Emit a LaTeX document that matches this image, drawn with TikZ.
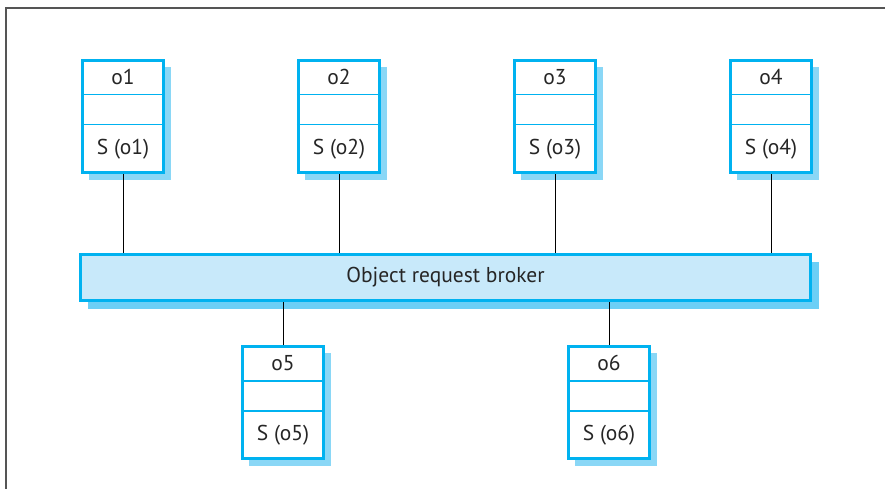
\documentclass[tikz,border=0pt]{standalone}
\usepackage{fontspec}
\setmainfont{PT Sans}
\usetikzlibrary{calc,shadows}
\definecolor{edgeblue}{HTML}{00B2F0}
\definecolor{brokerfill}{HTML}{C8E9FA}
\definecolor{brokershade}{HTML}{6CCFF6}
\definecolor{boxshade}{HTML}{8AD7F6}
\definecolor{framegray}{HTML}{555555}
\tikzset{
  objbox/.style={draw=edgeblue, line width=2.8pt, fill=white,
    minimum width=81.5pt, minimum height=112.5pt, inner sep=0pt,
    general shadow={shadow xshift=7pt, shadow yshift=-7pt, fill=boxshade, draw=none}},
  divider/.style={draw=edgeblue, line width=1.3pt},
  brokerbox/.style={draw=edgeblue, line width=2.8pt, fill=brokerfill,
    minimum width=730.5pt, minimum height=46.5pt, inner sep=0pt,
    general shadow={shadow xshift=8pt, shadow yshift=-8pt, fill=brokershade, draw=none}},
  link/.style={draw=black, line width=1pt},
  lbl/.style={font=\fontsize{21.5}{25}\selectfont, text=black!85, inner sep=0pt}
}
% object box: name, x, y (centre), index
\newcommand{\objectbox}[4]{%
  \node[objbox] (#1) at (#2,#3) {};
  \draw[divider] ($(#1.north west)+(0,36)$) -- ($(#1.north east)+(0,36)$);
  \draw[divider] ($(#1.north west)+(0,66)$) -- ($(#1.north east)+(0,66)$);
  \node[lbl] (#1name) at ($(#1.north)+(0,18)$) {o#4};
  \node[lbl] (#1serv) at ($(#1.north)+(0,90)$) {S (o#4)};
}
\begin{document}
\begin{tikzpicture}[x=1pt,y=-1pt]
  \useasboundingbox (0,0) rectangle (885,489);
  \draw[framegray, line width=1.2pt] (6,489) -- (6,8) -- (885,8);

  \node[brokerbox] (orb) at (445.5,277.5) {};
  \node[lbl] (orblabel) at (orb.center) {Object request broker};

  \objectbox{oa}{123}{116.5}{1}
  \objectbox{ob}{339}{116.5}{2}
  \objectbox{oc}{555}{116.5}{3}
  \objectbox{od}{771}{116.5}{4}
  \objectbox{oe}{283}{402.5}{5}
  \objectbox{of}{609}{402.5}{6}

  \foreach \o in {oa,ob,oc,od}
    \draw[link] (\o.south) -- (\o.south |- orb.north);
  \foreach \o in {oe,of}
    \draw[link] (\o.north) -- (\o.north |- orb.south);
\end{tikzpicture}
\end{document}
